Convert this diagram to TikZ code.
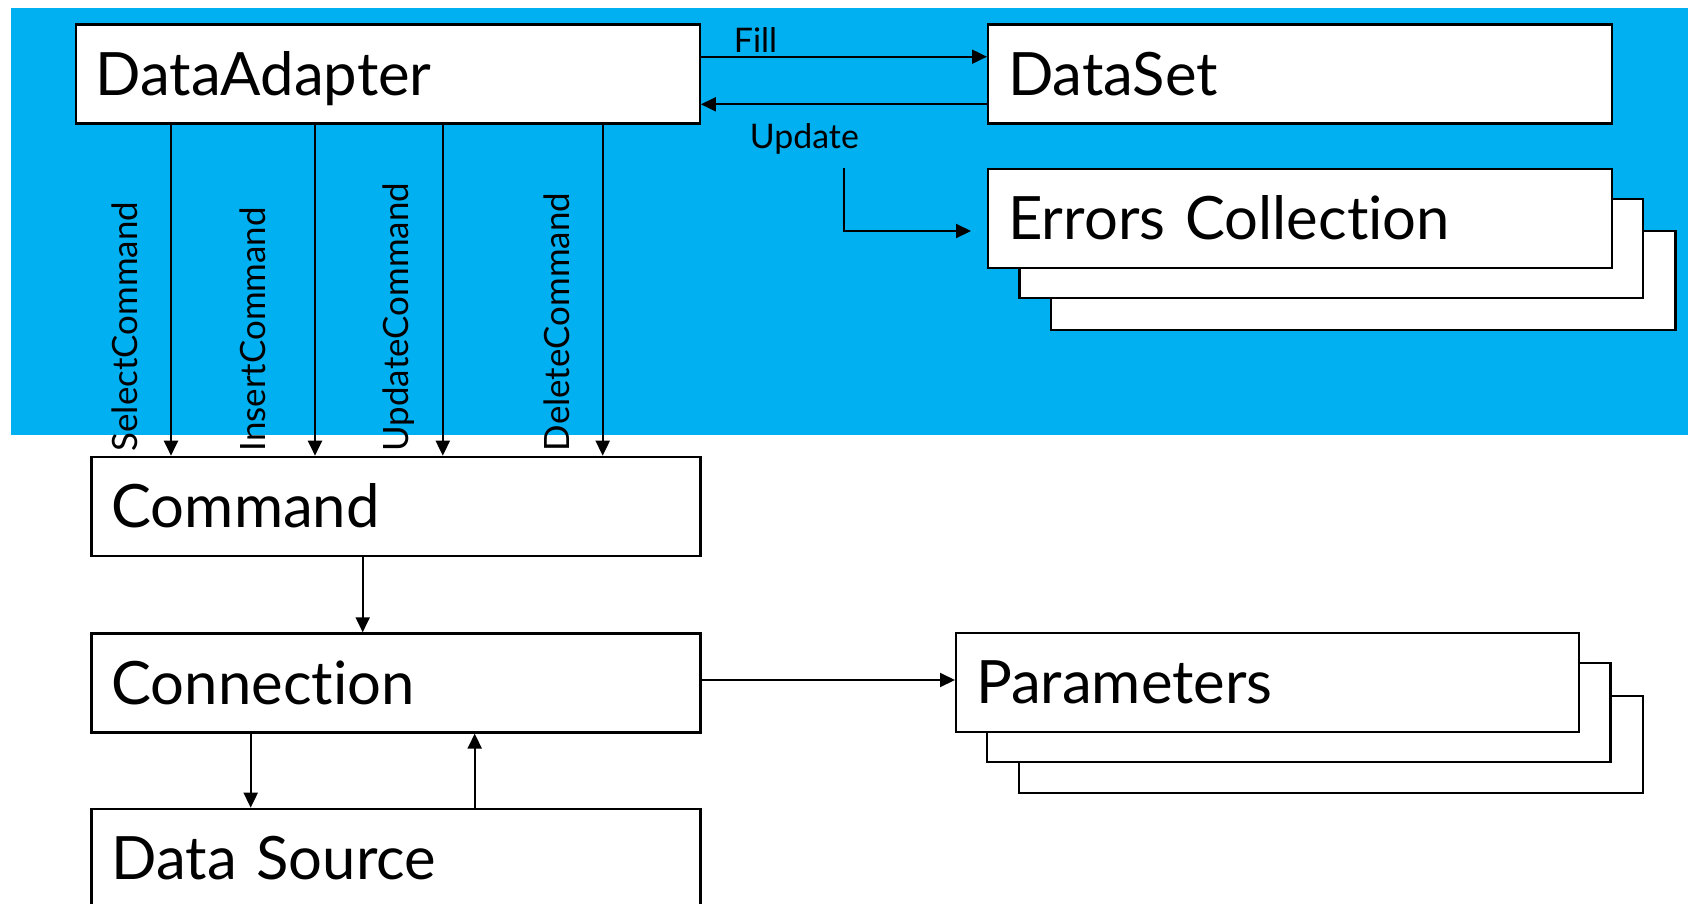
\documentclass[tikz,border=0pt]{standalone}
\usepackage{fontspec}
\setmainfont{Lato}[Ligatures={NoCommon}]
\usetikzlibrary{arrows.meta}
\definecolor{skyband}{RGB}{0,176,240}
\begin{document}
\begin{tikzpicture}[x=1bp,y=-1bp,
  box/.style={draw=black, line width=2.3bp, fill=white, anchor=north west,
    inner xsep=20bp, inner ysep=0bp, minimum height=99bp,
    text height=43bp, text depth=0bp, align=left,
    font=\fontsize{60}{60}\selectfont},
  stack/.style={draw=black, line width=2.3bp, fill=white},
  link/.style={draw=black, line width=2bp, -{Triangle[length=15bp,width=14bp]}},
  tag/.style={font=\fontsize{34}{34}\selectfont, inner sep=0bp},
  vtag/.style={font=\fontsize{35}{35}\selectfont, inner sep=0bp, rotate=90, anchor=base west}]

\clip (0,0) rectangle (1688,903);
\fill[white] (0,0) rectangle (1688,903);
\fill[skyband] (10.8,8) rectangle (1688,435);

% stacked sheets behind the collections
\draw[stack] (1051,231) rectangle (1675.4,330);
\draw[stack] (1019.5,199.3) rectangle (1643.3,297.7);
\draw[stack] (1018.7,696) rectangle (1642.7,793.3);
\draw[stack] (987,663.3) rectangle (1610.6,762);

% main boxes
\node[box, text width=584bp] (da) at (74.6,23.3) {DataAdapter};
\node[box, text width=584bp] (ds) at (987,23.3) {DataSet};
\node[box, text width=584bp] (err) at (987,167.7) {Errors Collection};
\node[box, text width=569bp] (cmd) at (90.4,455.7) {Command};
\node[box, text width=569bp] (conn) at (90.4,632.3) {Connection};
\node[box, text width=569bp] (src) at (90.4,807.7) {Data Source};
\node[box, text width=583bp] (par) at (955,631.7) {Parameters};

% DataAdapter <-> DataSet
\draw[link] (da.east |- 0,56.7) -- node[tag, pos=0, anchor=base west, xshift=32bp, yshift=4.4bp] (filltag) {Fill} (ds.west |- 0,56.7);
\draw[link] (ds.west |- 0,104.3) -- node[tag, pos=1, anchor=base west, xshift=48bp, yshift=-43.7bp] (updtag) {Update} (da.east |- 0,104.3);

% update errors
\coordinate (ubend) at (843.7,168.3);
\coordinate (utip) at (971,231);
\draw[link] (ubend) |- (utip);

% the four commands
\draw[link] (da.south -| 171,0) -- (cmd.north -| 171,0);
\draw[link] (da.south -| 315,0) -- (cmd.north -| 315,0);
\draw[link] (da.south -| 442.8,0) -- (cmd.north -| 442.8,0);
\draw[link] (da.south -| 602.7,0) -- (cmd.north -| 602.7,0);
\node[vtag] (selt) at (137.5,451.5) {SelectCommand};
\node[vtag] (inst) at (265.6,451.5) {InsertCommand};
\node[vtag] (updt) at (408.5,451.5) {UpdateCommand};
\node[vtag] (delt) at (569,451.5) {DeleteCommand};

% command, connection, data source
\draw[link] (cmd.south -| 362.7,0) -- (conn.north -| 362.7,0);
\draw[link] (conn.south -| 250.7,0) -- (src.north -| 250.7,0);
\draw[link] (src.north -| 474.7,0) -- (conn.south -| 474.7,0);
\draw[link] (conn.east |- 0,680) -- (par.west |- 0,680);
\end{tikzpicture}
\end{document}
